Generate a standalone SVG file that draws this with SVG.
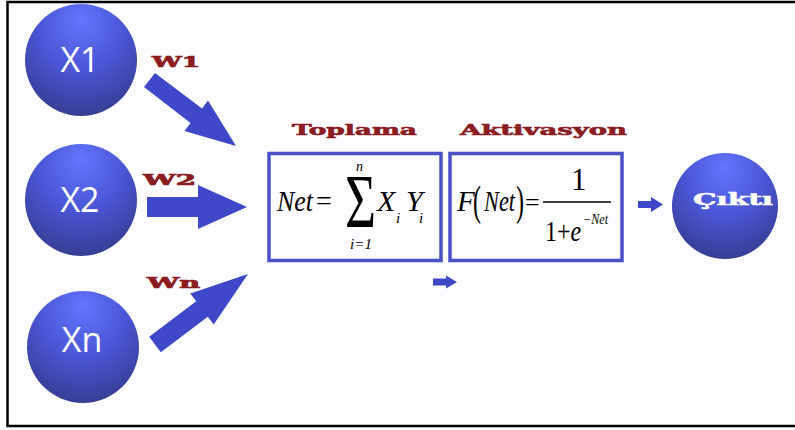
<svg xmlns="http://www.w3.org/2000/svg" width="795" height="430" viewBox="0 0 795 430">
<defs>
<radialGradient id="ball" cx="0.5" cy="0.3" r="0.75" fx="0.5" fy="0.12">
<stop offset="0" stop-color="#6476ff"/>
<stop offset="0.5" stop-color="#4a56d6"/>
<stop offset="1" stop-color="#343b8c"/>
</radialGradient>
<style>
.ball{fill:url(#ball);}
.xl{font-family:"Open Sans","Noto Sans",sans-serif;font-size:34px;fill:#ffffff;text-anchor:middle;}
.w{font-family:"DejaVu Serif",serif;font-weight:bold;font-size:14px;fill:#8b1c1f;stroke:#8b1c1f;stroke-width:0.7;}
.ttl{font-family:"DejaVu Serif",serif;font-weight:bold;font-size:15px;fill:#8b1c1f;stroke:#8b1c1f;stroke-width:0.6;}
.arr{fill:#3e48c9;}
.box{fill:none;stroke:#4a50c8;stroke-width:3.5;}
.m{font-family:"Liberation Serif","Times New Roman",serif;fill:#000;}
.mi{font-style:italic;}
</style>
</defs>
<rect x="0" y="0" width="795" height="430" fill="#ffffff"/>
<rect x="7.5" y="2" width="790" height="424" fill="#fdfdff"/>
<path d="M795 2 H7.5 V426 H795" fill="none" stroke="#000" stroke-width="2.5"/>

<g id="node-x1">
<circle class="ball" cx="81" cy="60" r="56"/>
<text class="xl" x="80" y="72">X1</text>
</g>
<g id="node-x2">
<circle class="ball" cx="81" cy="200" r="56"/>
<text class="xl" x="80" y="212">X2</text>
</g>
<g id="node-xn">
<circle class="ball" cx="83" cy="347" r="56"/>
<text class="xl" x="82" y="352">Xn</text>
</g>
<g id="node-cikti">
<circle class="ball" cx="725" cy="206" r="53"/>
<text x="693" y="205" textLength="80" lengthAdjust="spacingAndGlyphs" style="font-family:'DejaVu Serif',serif;font-weight:bold;font-size:17px;fill:#fff;stroke:#fff;stroke-width:0.6;">Çıktı</text>
</g>

<g id="node-toplama">
<text class="ttl" x="292" y="135" textLength="125" lengthAdjust="spacingAndGlyphs">Toplama</text>
<rect class="box" x="269" y="153.5" width="172" height="107"/>
<text class="m mi" x="277" y="211" font-size="30" textLength="36" lengthAdjust="spacingAndGlyphs">Net</text>
<text class="m" x="316" y="210" font-size="28">=</text>
<text class="m" x="345" y="227" font-size="76" textLength="31" lengthAdjust="spacingAndGlyphs">Σ</text>
<text class="m mi" x="356" y="171" font-size="14">n</text>
<text class="m mi" x="350" y="249" font-size="15" textLength="22" lengthAdjust="spacingAndGlyphs">i=1</text>
<text class="m mi" x="377" y="211" font-size="30">X</text>
<text class="m mi" x="396" y="223" font-size="15">i</text>
<text class="m mi" x="406" y="211" font-size="30">Y</text>
<text class="m mi" x="419" y="223" font-size="15">i</text>
</g>

<g id="node-aktivasyon">
<text class="ttl" x="460" y="135" textLength="167" lengthAdjust="spacingAndGlyphs">Aktivasyon</text>
<rect class="box" x="450" y="153.5" width="172" height="107"/>
<text class="m mi" x="457" y="211" font-size="29">F</text>
<text class="m" x="473" y="215" font-size="42" textLength="8" lengthAdjust="spacingAndGlyphs">(</text>
<text class="m mi" x="484" y="211" font-size="29" textLength="31" lengthAdjust="spacingAndGlyphs">Net</text>
<text class="m" x="516" y="215" font-size="42" textLength="8" lengthAdjust="spacingAndGlyphs">)</text>
<text class="m" x="525" y="211" font-size="26">=</text>
<line x1="543" y1="202" x2="611" y2="202" stroke="#000" stroke-width="1.5"/>
<text class="m" x="571" y="190" font-size="31">1</text>
<text class="m" x="545" y="241" font-size="30" textLength="36" lengthAdjust="spacingAndGlyphs">1+<tspan font-style="italic">e</tspan></text>
<text class="m mi" x="583" y="224" font-size="14" textLength="25" lengthAdjust="spacingAndGlyphs">−Net</text>
</g>

<g id="connectors">
<polygon class="arr" points="144,87 155,73 202,108.5 208,100.5 236,146 184.5,131 190.5,123"/>
<text class="w" x="152" y="67" textLength="48" lengthAdjust="spacingAndGlyphs">W1</text>
<polygon class="arr" points="147,197 198,197 198,185 247,207 198,229 198,217 147,217"/>
<rect x="142" y="172" width="56" height="13" fill="#fdfdff"/>
<text class="w" x="143" y="185" textLength="53" lengthAdjust="spacingAndGlyphs">W2</text>
<polygon class="arr" points="149.2,336.8 196.2,301.3 190.3,293.5 248,274 213.7,324.5 207.8,316.7 160.8,352.2"/>
<text class="w" x="147" y="288" textLength="53" lengthAdjust="spacingAndGlyphs" font-size="16">Wn</text>
<polygon class="arr" points="433,278.5 446,278.5 446,275.5 457,282 446,288.5 446,285.5 433,285.5"/>
<polygon class="arr" points="638,201 651,201 651,197 663,204.5 651,212 651,208 638,208"/>
</g>
</svg>
